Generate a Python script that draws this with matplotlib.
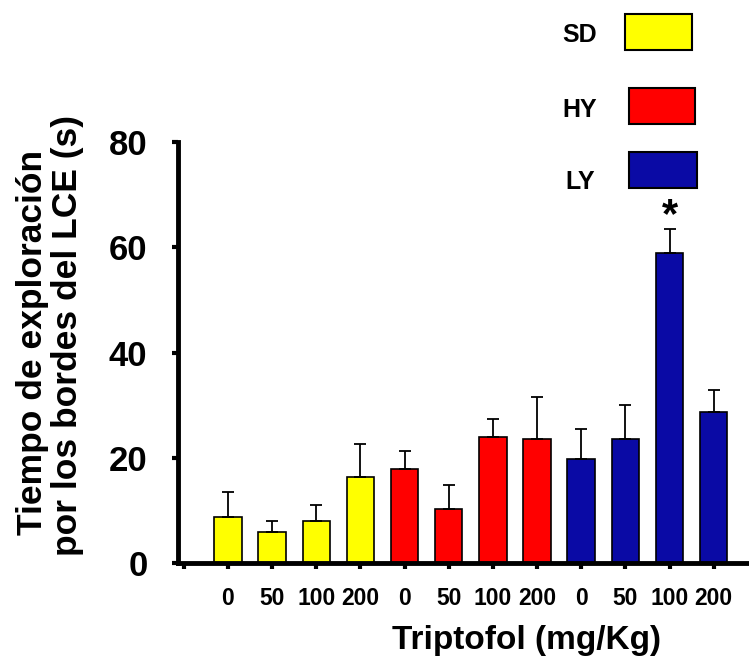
import numpy as np
import matplotlib
matplotlib.use("Agg")
import matplotlib.pyplot as plt
from matplotlib.patches import Rectangle

plt.rcParams['font.family'] = ['Liberation Sans', 'DejaVu Sans']

# Data
groups = ["SD", "HY", "LY"]
doses = ["0", "50", "100", "200"]
group_colors = ["#ffff00", "#ff0000", "#0a0aa5"]
means_sd = [8.8, 5.8, 8.0, 16.4]
means_hy = [17.9, 10.3, 24.0, 23.6]
means_ly = [19.8, 23.6, 59.0, 28.6]
sem_sd = [4.6, 2.2, 3.1, 6.2]
sem_hy = [3.4, 4.6, 3.4, 8.0]
sem_ly = [5.7, 6.5, 4.4, 4.2]
sig_group, sig_dose = 2, 2

means = [means_sd, means_hy, means_ly]
sems = [sem_sd, sem_hy, sem_ly]

fig = plt.figure(figsize=(7.49, 6.60), dpi=100)
ax = fig.add_axes([178 / 749, 1 - 563 / 660, 1 - 178 / 749, (563 - 142) / 660])

for g in range(len(groups)):
    x = np.arange(len(doses)) + 1 + g * len(doses)
    ax.bar(x, means[g], width=0.62, color=group_colors[g], edgecolor='black',
           linewidth=1.2, zorder=2)
    ax.errorbar(x, means[g], yerr=[np.zeros(len(doses)), sems[g]], fmt='none',
                ecolor='black', elinewidth=1.3, capsize=4, capthick=1.3, zorder=3)

# significance mark
xs = 1 + sig_group * len(doses) + sig_dose
ys = means[sig_group][sig_dose] + sems[sig_group][sig_dose]
ax.text(xs, ys - 1.3, '*', ha='center', va='bottom', fontsize=30,
        fontweight='bold', clip_on=False)

ax.set_xlim(-0.13, 12.8)
ax.set_ylim(0, 80)
ax.set_yticks([0, 20, 40, 60, 80])
ax.set_xticks(np.arange(0, 13))
ax.set_xticklabels([''] + doses * len(groups), fontsize=16.5, fontweight='bold')
for lab in ax.get_yticklabels():
    lab.set_fontsize(25)
    lab.set_fontweight('bold')

for s in ['top', 'right']:
    ax.spines[s].set_visible(False)
for s in ['left', 'bottom']:
    ax.spines[s].set_linewidth(3.5)
ax.tick_params(axis='both', direction='out', length=4, width=3)
ax.tick_params(axis='x', pad=13)
ax.tick_params(axis='y', pad=18)

ax.set_xlabel('Triptofol (mg/Kg)', fontsize=24, fontweight='bold')
ax.xaxis.set_label_coords((526 - 178) / (749 - 178), -(625 - 563) / (563 - 142))
fig.text(33 / 749, 1 - 342 / 660, 'Tiempo de exploración', rotation=90,
         ha='center', va='center', fontsize=25.5, fontweight='bold')
fig.text(68 / 749, 1 - 336 / 660, 'por los bordes del LCE (s)', rotation=90,
         ha='center', va='center', fontsize=25.5, fontweight='bold')

# legend boxes
legend_boxes = [(625, 14, 67, 36), (629, 88, 66, 36), (629, 152, 68, 36)]
legend_text_y = [35, 110, 182]
for g, (bx, by, bw, bh) in enumerate(legend_boxes):
    fig.patches.append(Rectangle((bx / 749, 1 - (by + bh) / 660), bw / 749, bh / 660,
                                 transform=fig.transFigure, facecolor=group_colors[g],
                                 edgecolor='black', linewidth=1.5))
    fig.text(580 / 749, 1 - legend_text_y[g] / 660, groups[g], ha='center',
             va='center', fontsize=18, fontweight='bold')

fig.savefig('out.png', dpi=100)
